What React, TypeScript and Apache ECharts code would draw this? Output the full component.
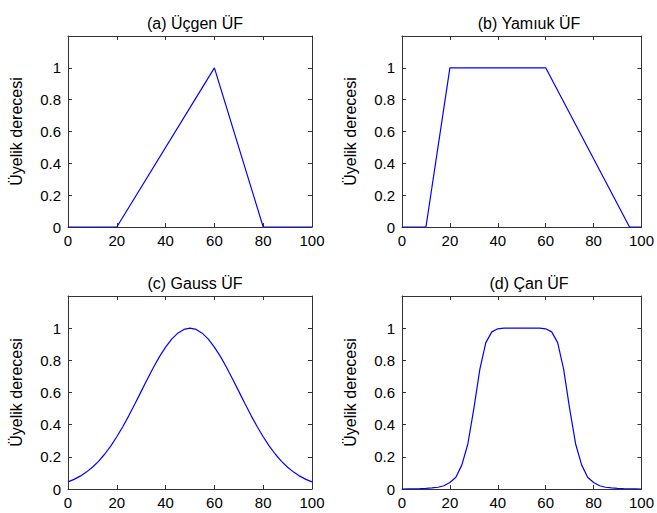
import React, { useEffect, useRef } from "react";
import * as echarts from "echarts";

const titles = ["(a) Üçgen ÜF", "(b) Yamıuk ÜF", "(c) Gauss ÜF", "(d) Çan ÜF"];
const yName = "Üyelik derecesi";

const triX = [0, 20, 60, 80, 100];
const triY = [0, 0, 1, 0, 0];

const trapX = [0, 10, 20, 60, 95, 100];
const trapY = [0, 0, 1, 1, 0, 0];

const gaussX = [0, 2.5, 5, 7.5, 10, 12.5, 15, 17.5, 20, 22.5, 25, 27.5, 30, 32.5, 35, 37.5, 40, 42.5, 45, 47.5, 50,
  52.5, 55, 57.5, 60, 62.5, 65, 67.5, 70, 72.5, 75, 77.5, 80, 82.5, 85, 87.5, 90, 92.5, 95, 97.5, 100];
const gaussY = [0.044, 0.06, 0.08, 0.105, 0.135, 0.172, 0.216, 0.267, 0.325, 0.389, 0.458, 0.531, 0.607, 0.682, 0.755, 0.823, 0.882, 0.932, 0.969, 0.992, 1.0,
  0.992, 0.969, 0.932, 0.882, 0.823, 0.755, 0.682, 0.607, 0.531, 0.458, 0.389, 0.325, 0.267, 0.216, 0.172, 0.135, 0.105, 0.08, 0.06, 0.044];

const bellX = [0, 2.5, 5, 7.5, 10, 12.5, 15, 17.5, 20, 22.5, 25, 27.5, 30, 32.5, 35, 37.5, 40, 42.5, 45, 47.5, 50,
  52.5, 55, 57.5, 60, 62.5, 65, 67.5, 70, 72.5, 75, 77.5, 80, 82.5, 85, 87.5, 90, 92.5, 95, 97.5, 100];
const bellY = [0.0, 0.001, 0.0015, 0.0024, 0.004, 0.0065, 0.011, 0.02, 0.04, 0.073, 0.15, 0.28, 0.5, 0.744, 0.91, 0.977, 0.996, 1.0, 1.0, 1.0, 1.0,
  1.0, 1.0, 1.0, 0.996, 0.977, 0.91, 0.744, 0.5, 0.28, 0.15, 0.073, 0.04, 0.02, 0.011, 0.0065, 0.004, 0.0024, 0.0015, 0.001, 0.0];

const seriesX = [triX, trapX, gaussX, bellX];
const seriesY = [triY, trapY, gaussY, bellY];

const grids = [
  { left: 68, top: 36, width: 244, height: 191 },
  { left: 402, top: 36, width: 244, height: 191 },
  { left: 68, top: 296, width: 244, height: 193 },
  { left: 402, top: 296, width: 244, height: 193 },
];

const FONT = "Liberation Sans, Arial, sans-serif";
const AX = "#333";

export default function App() {
  const ref = useRef<HTMLDivElement>(null);
  useEffect(() => {
    if (!ref.current) return;
    const chart = echarts.init(ref.current, undefined, { renderer: "svg" });
    const xAxis: any[] = [];
    const yAxis: any[] = [];
    const series: any[] = [];
    const title: any[] = [];
    grids.forEach((g, i) => {
      title.push({
        text: titles[i],
        left: g.left + g.width / 2,
        textAlign: "center",
        top: g.top - 26,
        textStyle: { fontFamily: FONT, fontSize: 16, fontWeight: "normal", color: "#000" },
      });
      const common = {
        gridIndex: i,
        type: "value",
        axisLine: { show: true, onZero: false, lineStyle: { color: AX, width: 1 } },
        axisTick: { show: true, inside: true, length: 4, lineStyle: { color: AX } },
        splitLine: { show: false },
      };
      xAxis.push({
        ...common,
        position: "bottom",
        min: 0,
        max: 100,
        interval: 20,
        axisLabel: { fontFamily: FONT, fontSize: 15, color: "#000", margin: 6 },
      });
      xAxis.push({
        ...common,
        position: "top",
        min: 0,
        max: 100,
        interval: 20,
        axisLabel: { show: false },
      });
      yAxis.push({
        ...common,
        position: "left",
        min: 0,
        max: 1.2,
        interval: 0.2,
        name: yName,
        nameLocation: "middle",
        nameGap: 44,
        nameTextStyle: { fontFamily: FONT, fontSize: 16, color: "#000" },
        axisLabel: {
          fontFamily: FONT,
          fontSize: 15,
          color: "#000",
          margin: 7,
          formatter: (v: number) => (v > 1.01 ? "" : String(Math.round(v * 10) / 10)),
        },
      });
      yAxis.push({
        ...common,
        position: "right",
        min: 0,
        max: 1.2,
        interval: 0.2,
        axisLabel: { show: false },
      });
      series.push({
        type: "line",
        xAxisIndex: i * 2,
        yAxisIndex: i * 2,
        showSymbol: false,
        symbol: "none",
        smooth: false,
        lineStyle: { color: "#0000ff", width: 1.2 },
        data: seriesX[i].map((x, k) => [x, seriesY[i][k]]),
      });
    });
    chart.setOption({
      animation: false,
      backgroundColor: "#fff",
      title,
      grid: grids.map((g) => ({ ...g, containLabel: false })),
      xAxis,
      yAxis,
      series,
    });
    return () => chart.dispose();
  }, []);
  return (
    <div
      ref={ref}
      style={{ position: "absolute", left: 0, top: 0, width: 657, height: 513 }}
    />
  );
}
